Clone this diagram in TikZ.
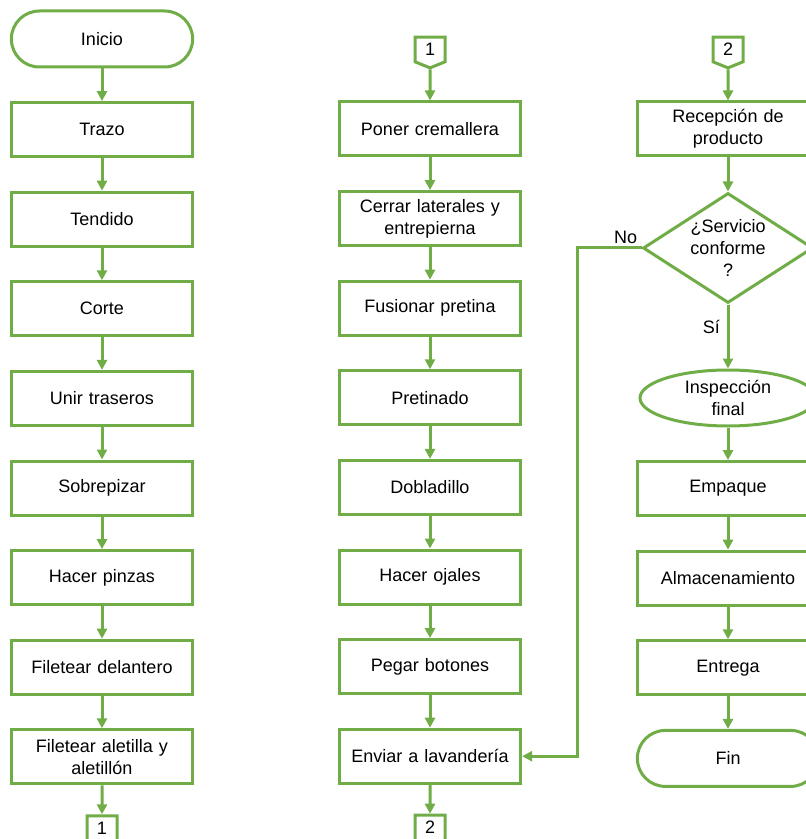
\documentclass[tikz,border=0pt]{standalone}
\usepackage{fontspec}
\setmainfont{Liberation Sans}
\usetikzlibrary{arrows.meta,positioning,shapes.geometric,shapes.symbols}
\definecolor{flowgreen}{RGB}{112,173,71}
\tikzset{
    %Define style for flow chart boxes
    flowbase/.style={
           draw=flowgreen, line width=1.5pt,
           fill=white,
           align=center,
           font=\fontsize{9}{11}\selectfont},
    procbox/.style={
           flowbase,
           rectangle,
           minimum height=27pt,
           minimum width=87pt,
           text width=84pt},
    termbox/.style={
           procbox,
           minimum height=28pt,
           rounded corners=14pt},
    decisionbox/.style={
           flowbase,
           diamond,
           aspect=1.54,
           inner sep=0pt,
           minimum width=85pt,
           minimum height=55pt},
    checkbox/.style={
           flowbase,
           ellipse,
           inner sep=0pt,
           minimum width=88pt,
           minimum height=28pt},
    pagecon/.style={
           flowbase,
           signal, signal to=south, signal pointer angle=136,
           inner sep=1.5pt,
           minimum width=15pt,
           minimum height=14pt},
    flowline/.style={draw=flowgreen, line width=1.5pt}
}

\begin{document}
\begin{tikzpicture}[x=0.5pt, y=-0.5pt, >={Triangle[length=5pt,width=5pt]}, node distance=16.3pt]
\useasboundingbox (0,0) rectangle (805,839);
% first column
\node[termbox] (inicio) at (102,39) {Inicio};
\node[procbox, below=of inicio] (trazo) {Trazo};
\node[procbox, below=of trazo] (tendido) {Tendido};
\node[procbox, below=of tendido] (corte) {Corte};
\node[procbox, below=of corte] (unir) {Unir traseros};
\node[procbox, below=of unir] (sobrepizar) {Sobrepizar};
\node[procbox, below=of sobrepizar] (pinzas) {Hacer pinzas};
\node[procbox, below=of pinzas] (filetearA) {Filetear delantero};
\node[procbox, below=of filetearA] (filetearB) {Filetear aletilla y\\aletillón};
\node[pagecon, below=14.5pt of filetearB] (conAout) {1};
% second column
\node[procbox] (cremallera) at (430,129) {Poner cremallera};
\node[pagecon, above=15.5pt of cremallera] (conAin) {1};
\node[procbox, below=of cremallera] (laterales) {Cerrar laterales y\\entrepierna};
\node[procbox, below=of laterales] (fusionar) {Fusionar pretina};
\node[procbox, below=of fusionar] (pretinado) {Pretinado};
\node[procbox, below=of pretinado] (dobladillo) {Dobladillo};
\node[procbox, below=of dobladillo] (ojales) {Hacer ojales};
\node[procbox, below=of ojales] (botones) {Pegar botones};
\node[procbox, below=of botones] (lavanderia) {Enviar a lavandería};
\node[pagecon, below=14.5pt of lavanderia] (conBout) {2};
% third column
\node[procbox] (recepcion) at (728,129) {Recepción de\\producto};
\node[pagecon, above=15.5pt of recepcion] (conBin) {2};
\node[decisionbox, below=17pt of recepcion] (conforme) {¿Servicio\\conforme\\?};
\node[checkbox, below=32pt of conforme] (inspeccion) {Inspección\\final};
\node[procbox, below=of inspeccion] (empaque) {Empaque};
\node[procbox, below=of empaque] (almacen) {Almacenamiento};
\node[procbox, below=of almacen] (entrega) {Entrega};
\node[termbox, below=of entrega] (fin) {Fin};
% connectors
\path[->,flowline] (inicio) -- (trazo);
\path[->,flowline] (trazo) -- (tendido);
\path[->,flowline] (tendido) -- (corte);
\path[->,flowline] (corte) -- (unir);
\path[->,flowline] (unir) -- (sobrepizar);
\path[->,flowline] (sobrepizar) -- (pinzas);
\path[->,flowline] (pinzas) -- (filetearA);
\path[->,flowline] (filetearA) -- (filetearB);
\path[->,flowline] (filetearB) -- (conAout);
\path[->,flowline] (conAin) -- (cremallera);
\path[->,flowline] (cremallera) -- (laterales);
\path[->,flowline] (laterales) -- (fusionar);
\path[->,flowline] (fusionar) -- (pretinado);
\path[->,flowline] (pretinado) -- (dobladillo);
\path[->,flowline] (dobladillo) -- (ojales);
\path[->,flowline] (ojales) -- (botones);
\path[->,flowline] (botones) -- (lavanderia);
\path[->,flowline] (lavanderia) -- (conBout);
\path[->,flowline] (conBin) -- (recepcion);
\path[->,flowline] (recepcion) -- (conforme);
\path[->,flowline] (conforme) -- node[left, pos=0.35, font=\fontsize{9}{11}\selectfont] {Sí} (inspeccion);
\path[->,flowline] (conforme.west) -- ++(-64,0) |- (lavanderia.east);
\node[above left, inner sep=2pt, font=\fontsize{9}{11}\selectfont] at (conforme.west) {No};
\path[->,flowline] (inspeccion) -- (empaque);
\path[->,flowline] (empaque) -- (almacen);
\path[->,flowline] (almacen) -- (entrega);
\path[->,flowline] (entrega) -- (fin);
\end{tikzpicture}
\end{document}
